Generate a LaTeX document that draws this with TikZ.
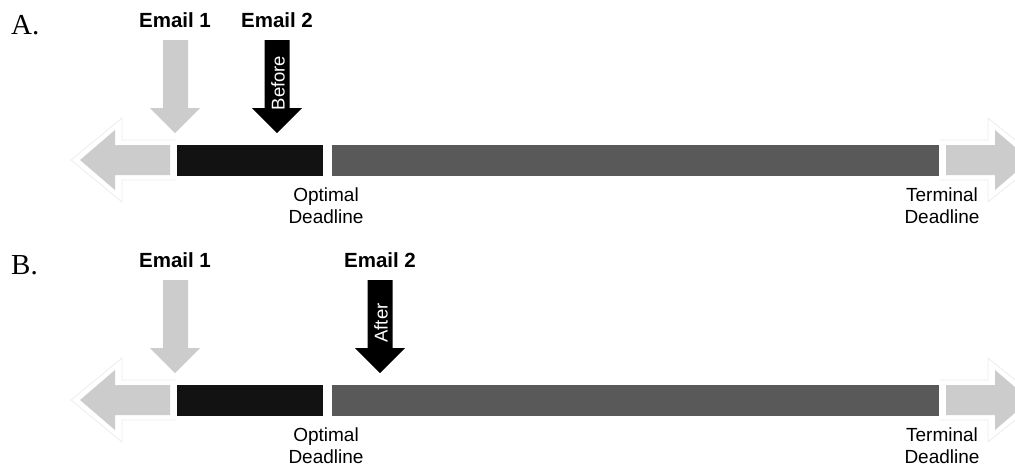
\documentclass[tikz,border=0pt]{standalone}
\usepackage{fontspec}
\setmainfont{Liberation Sans}
\newfontfamily\serifA{Liberation Serif}
\begin{document}
\begin{tikzpicture}[x=1pt,y=-1pt,
  lbl/.style={font=\fontsize{20.5}{22}\selectfont\bfseries, inner sep=0pt},
  panel/.style={font=\fontsize{29}{30}\selectfont\serifA, inner sep=0pt, anchor=west},
  dl/.style={font=\fontsize{19}{22}\selectfont, inner sep=0pt, align=center},
  inarrow/.style={font=\fontsize{18.5}{19}\selectfont, text=white, inner sep=0pt, rotate=90},
  halo/.style={draw=black!7, line width=0.8pt},
  lightfill/.style={fill=black!20},
]
\useasboundingbox (0,0) rectangle (1015,469);
\clip (0,0) rectangle (1015,469);
\fill[white] (0,0) rectangle (1015,469);

\foreach \dy/\px/\word/\pl/\nm in {0/277/Before/A/a, 240/380/After/B/b}{
\begin{scope}[shift={(0,\dy)}]
  % halo outlines
  \draw[halo] (176,140) -- (122,140) -- (122,118) -- (71,160) -- (122,202) -- (122,180) -- (176,180);
  \draw[halo] (940,140) -- (988,140) -- (988,118) -- (1040,160) -- (988,202) -- (988,180) -- (940,180);
  % left big arrow
  \fill[lightfill] (170,145) -- (115,145) -- (115,130) -- (80,160) -- (115,190) -- (115,175) -- (170,175) -- cycle;
  % right big arrow
  \fill[lightfill] (946,145) -- (995,145) -- (995,130) -- (1030,160) -- (995,190) -- (995,175) -- (946,175) -- cycle;
  % bars
  \fill[black!93] (177,145) rectangle (323,176);
  \fill[black!65] (332,145) rectangle (939,176);
  % email 1 arrow
  \fill[lightfill] (163,40) -- (188,40) -- (188,108) -- (200,108) -- (175,133) -- (150,108) -- (163,108) -- cycle;
  % email 2 arrow
  \fill[black] ({\px-12.5},40) -- ({\px+12.5},40) -- ({\px+12.5},108) -- ({\px+25},108) -- (\px,133) -- ({\px-25},108) -- ({\px-12.5},108) -- cycle;
  \node[inarrow] (w\nm) at ({\px+1},83) {\word};
  % labels
  \node[panel] (p\nm) at (11,25) {\pl.};
  \node[lbl] (e1\nm) at (175,20) {Email 1};
  \node[lbl] (e2\nm) at (\px,20) {Email 2};
  \node[dl] (od\nm) at (326,206) {Optimal\\Deadline};
  \node[dl] (td\nm) at (942,206) {Terminal\\Deadline};
\end{scope}
}
\end{tikzpicture}
\end{document}
